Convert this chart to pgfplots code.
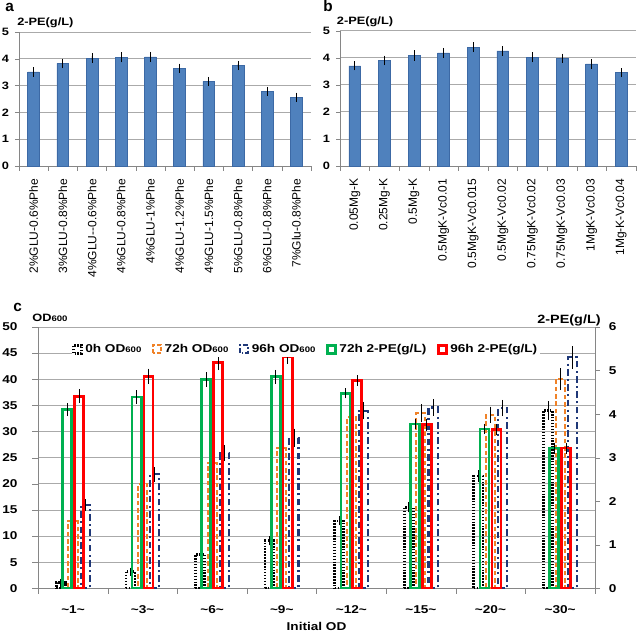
\documentclass[border=0pt]{standalone}
\usepackage{fontspec}
\setmainfont{Liberation Sans}
\newfontfamily\wide{Liberation Sans}[FakeStretch=1.2]
\usepackage{pgfplots}
\pgfplotsset{compat=1.18}

\definecolor{barblue}{RGB}{79,129,189}
\definecolor{barborder}{RGB}{60,105,165}
\definecolor{gridgray}{RGB}{170,170,170}
\definecolor{axgray}{RGB}{134,134,134}
\definecolor{cgreen}{RGB}{0,176,80}
\definecolor{cred}{RGB}{255,0,0}
\definecolor{corange}{RGB}{240,130,40}
\definecolor{cnavy}{RGB}{31,56,120}

\pgfplotsset{
  boxlegend/.style={legend image code/.code={\draw[##1,fill=none] (0pt,-3pt) rectangle (6pt,3pt);}},
  errstyle/.style={
    error bars/y dir=both, error bars/y explicit,
    error bars/error bar style={black, line width=0.5pt, solid},
    error bars/error mark options={black, mark size=2.2pt, line width=0.5pt, solid}},
  toppanel/.style={
    scale only axis, anchor=south west,
    xmin=-0.5, xmax=9.5, ymin=0, ymax=5,
    ybar, bar width=0.4,
    axis x line*=bottom, axis y line*=left,
    axis line style={axgray,-},
    xtick={0,...,9}, minor xtick={-0.5,0.5,...,9.5},
    major x tick style={draw=none}, minor x tick style={axgray},
    ytick={0,1,...,5}, ytick style={axgray},
    tick align=outside, major tick length=3pt, minor tick length=3.5pt,
    ymajorgrids, grid style={gridgray, line width=0.6pt},
    /pgf/number format/assume math mode=true,
    yticklabel style={font=\wide\bfseries\fontsize{8}{9}\selectfont},
    yticklabel shift=1pt,
    xticklabel style={rotate=90, anchor=east, font=\fontsize{9}{10}\selectfont},
    xticklabel shift=3pt,
    every axis y label/.style={at={(rel axis cs:0,1)}, anchor=base west, inner sep=0pt,
      font=\wide\bfseries\fontsize{8}{9}\selectfont},
  },
  cbar/.style={ybar, bar width=0.13, bar shift=0pt, fill=none},
}

\begin{document}
\begin{tikzpicture}
\useasboundingbox (0,0) rectangle (478.5pt,474.75pt);

% ---------------- panel a ----------------
\begin{axis}[toppanel,
  at={(14.25pt,350.25pt)}, width=219pt, height=100.5pt,
  xticklabels={{2\%GLU-0.6\%Phe},{3\%GLU-0.8\%Phe},{4\%GLU-{}-0.6\%Phe},{4\%GLU-0.8\%Phe},{4\%GLU-1\%Phe},{4\%GLU-1.2\%Phe},{4\%GLU-1.5\%Phe},{5\%GLU-0.8\%Phe},{6\%GLU-0.8\%Phe},{7\%Glu-0.8\%Phe}},
  ylabel={2-PE(g/L)}, ylabel style={xshift=-1.5pt, yshift=4.9pt},
]
\addplot[fill=barblue, draw=barborder, line width=0.4pt, errstyle] coordinates {
 (0,3.51) +- (0,0.07) (1,3.83) +- (0,0.07) (2,4.03) +- (0,0.07) (3,4.06) +- (0,0.08)
 (4,4.07) +- (0,0.08) (5,3.65) +- (0,0.06) (6,3.16) +- (0,0.06) (7,3.75) +- (0,0.06)
 (8,2.79) +- (0,0.05) (9,2.57) +- (0,0.06)};
\end{axis}

% ---------------- panel b ----------------
\begin{axis}[toppanel,
  at={(255pt,350.25pt)}, width=222pt, height=101.5pt,
  xticklabels={{0.05Mg-K},{0.25Mg-K},{0.5Mg-K},{0.5MgK-Vc0.01},{0.5MgK-Vc0.015},{0.5MgK-Vc0.02},{0.75MgK-Vc0.02},{0.75MgK-Vc0.03},{1MgK-Vc0.03},{1Mg-K-Vc0.04}},
  ylabel={2-PE(g/L)}, ylabel style={xshift=-2.5pt, yshift=4.9pt},
]
\addplot[fill=barblue, draw=barborder, line width=0.4pt, errstyle] coordinates {
 (0,3.70) +- (0,0.06) (1,3.90) +- (0,0.07) (2,4.08) +- (0,0.08) (3,4.18) +- (0,0.08)
 (4,4.39) +- (0,0.07) (5,4.25) +- (0,0.07) (6,4.02) +- (0,0.08) (7,3.98) +- (0,0.06)
 (8,3.77) +- (0,0.06) (9,3.45) +- (0,0.06)};
\end{axis}

% ---------------- panel c : OD600 (left axis) ----------------
% x positions: category index + offset of the series within its group
\begin{axis}[
  scale only axis, anchor=south west,
  at={(28.65pt,33.5pt)}, width=417.5pt, height=196pt,
  xmin=-0.5, xmax=7.5, ymin=0, ymax=50,
  axis x line*=bottom, axis y line*=left,
  axis line style={axgray,-},
  xtick={0,...,7}, minor xtick={-0.5,0.5,...,7.5},
  major x tick style={draw=none}, minor x tick style={axgray},
  xticklabels={{\textasciitilde1\textasciitilde},{\textasciitilde3\textasciitilde},{\textasciitilde6\textasciitilde},{\textasciitilde9\textasciitilde},{\textasciitilde12\textasciitilde},{\textasciitilde15\textasciitilde},{\textasciitilde20\textasciitilde},{\textasciitilde30\textasciitilde}},
  ytick={0,5,...,50}, ytick style={axgray},
  tick align=outside, major tick length=4.5pt, minor tick length=4pt,
  ymajorgrids, grid style={gridgray, line width=0.6pt},
  /pgf/number format/assume math mode=true,
  tick label style={font=\wide\bfseries\fontsize{8.5}{10}\selectfont},
  yticklabel shift=7.5pt, xticklabel shift=5pt,
  xlabel={Initial OD},
  every axis x label/.style={at={(axis description cs:0.5,0)}, anchor=north, inner sep=0pt, yshift=-25pt,
    font=\wide\bfseries\fontsize{8.5}{10}\selectfont},
  ylabel={OD{\fontsize{6}{6}\selectfont 600}},
  every axis y label/.style={at={(rel axis cs:0,1)}, anchor=base west, inner sep=0pt, xshift=-4.6pt, yshift=4pt,
    font=\wide\bfseries\fontsize{8}{9}\selectfont},
]
% 0h OD600 (offset -0.175)
\addplot[cbar, draw=black, line width=2pt, dash pattern=on 1.1pt off 1.1pt, errstyle] coordinates {
 (-0.175,1.1) +- (0,0.2) (0.825,3.2) +- (0,0.2) (1.825,6.5) +- (0,0.3) (2.825,9.1) +- (0,0.3)
 (3.825,12.9) +- (0,0.3) (4.825,15.5) +- (0,0.4) (5.825,21.5) +- (0,0.5) (6.825,34.0) +- (0,1.2)};
% 72h OD600 (offset 0)
\addplot[cbar, draw=corange, line width=1.5pt, dash pattern=on 3.5pt off 2pt, errstyle] coordinates {
 (0,12.8) +- (0,0.5) (1,20.0) +- (0,0.8) (2,24.0) +- (0,0.9) (3,26.8) +- (0,1.0)
 (4,32.7) +- (0,1.1) (5,33.5) +- (0,1.2) (6,33.2) +- (0,1.0) (7,40.0) +- (0,1.5)};
% 96h OD600 (offset +0.175)
\addplot[cbar, draw=cnavy, line width=1.6pt, dash pattern=on 5pt off 2.5pt on 1.5pt off 2.5pt, errstyle] coordinates {
 (0.175,15.9) +- (0,0.6) (1.175,21.8) +- (0,0.8) (2.175,25.9) +- (0,1.0) (3.175,28.8) +- (0,1.2)
 (4.175,34.0) +- (0,1.1) (5.175,34.6) +- (0,1.0) (6.175,34.5) +- (0,1.0) (7.175,44.2) +- (0,1.6)};
\end{axis}

% ---------------- panel c : 2-PE (right axis) ----------------
\begin{axis}[
  scale only axis, anchor=south west,
  at={(28.65pt,33.5pt)}, width=417.5pt, height=196pt,
  xmin=-0.5, xmax=7.5, ymin=0, ymax=6,
  axis x line=none, axis y line*=right,
  axis line style={axgray,-},
  ytick={0,1,...,6}, ytick style={axgray},
  tick align=outside, major tick length=4pt,
  /pgf/number format/assume math mode=true,
  tick label style={font=\wide\bfseries\fontsize{8.5}{10}\selectfont},
  yticklabel shift=3pt,
  ylabel={2-PE(g/L)},
  every axis y label/.style={at={(rel axis cs:1,1)}, anchor=base east, inner sep=0pt, xshift=4.5pt, yshift=3pt,
    font=\wide\bfseries\fontsize{9}{10}\selectfont},
  legend columns=5,
  legend style={at={(0.481,0.915)}, anchor=center, draw=none, fill=white, inner sep=0pt,
    font=\wide\bfseries\fontsize{8.5}{10}\selectfont,
    /tikz/every even column/.append style={column sep=6pt}},
]
\addlegendimage{boxlegend, draw=black, line width=2pt, dash pattern=on 1.1pt off 1.1pt}
\addlegendentry{0h OD{\fontsize{6}{6}\selectfont 600}}
\addlegendimage{boxlegend, draw=corange, line width=1.5pt, dash pattern=on 3pt off 1.5pt}
\addlegendentry{72h OD{\fontsize{6}{6}\selectfont 600}}
\addlegendimage{boxlegend, draw=cnavy, line width=1.6pt, dash pattern=on 4pt off 1.5pt on 1pt off 1.5pt}
\addlegendentry{96h OD{\fontsize{6}{6}\selectfont 600}}
% 72h 2-PE (offset -0.085)
\addplot[cbar, draw=cgreen, line width=2pt, boxlegend, errstyle] coordinates {
 (-0.085,4.10) +- (0,0.08) (0.915,4.39) +- (0,0.09) (1.915,4.79) +- (0,0.10) (2.915,4.86) +- (0,0.09)
 (3.915,4.48) +- (0,0.05) (4.915,3.77) +- (0,0.05) (5.915,3.66) +- (0,0.05) (6.915,3.22) +- (0,0.06)};
\addlegendentry{72h 2-PE(g/L)}
% 96h 2-PE (offset +0.085)
\addplot[cbar, draw=cred, line width=2pt, boxlegend, errstyle] coordinates {
 (0.085,4.41) +- (0,0.09) (1.085,4.87) +- (0,0.11) (2.085,5.19) +- (0,0.11) (3.085,5.31) +- (0,0.09)
 (4.085,4.77) +- (0,0.05) (5.085,3.76) +- (0,0.07) (6.085,3.64) +- (0,0.06) (7.085,3.22) +- (0,0.06)};
\addlegendentry{96h 2-PE(g/L)}
\end{axis}

\node[anchor=base west, inner sep=0pt, font=\bfseries\fontsize{11.5}{12}\selectfont] at (3.75pt,465.75pt) {a};
\node[anchor=base west, inner sep=0pt, font=\bfseries\fontsize{11.5}{12}\selectfont] at (242.25pt,466pt) {b};
\node[anchor=base west, inner sep=0pt, font=\bfseries\fontsize{11.5}{12}\selectfont] at (9.75pt,241.5pt) {c};
\end{tikzpicture}
\end{document}
